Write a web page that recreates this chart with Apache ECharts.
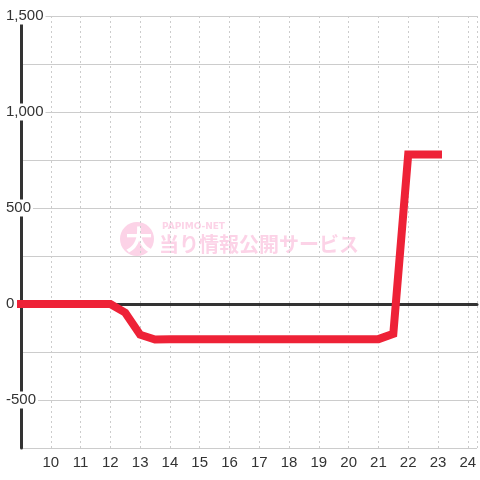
<!DOCTYPE html>
<html>
<head>
<meta charset="utf-8">
<script src="https://cdn.jsdelivr.net/npm/echarts@6/dist/echarts.min.js"></script>
<style>
  html, body { margin: 0; padding: 0; background: #fff; }
  #chart { width: 480px; height: 480px; }
</style>
</head>
<body>
<div id="chart"></div>
<script>
// hours of the day (x) and running balance (y)
const hours = [9, 9.5, 10, 10.5, 11, 11.5, 12, 12.5, 13, 13.5, 14, 14.5, 15, 15.5, 16, 16.5,
  17, 17.5, 18, 18.5, 19, 19.5, 20, 20.5, 21, 21.5, 22, 22.5, 23];
const balance = [0, 0, 0, 0, 0, 0, 0, -45, -160, -185, -183, -183, -183, -183, -183, -183,
  -183, -183, -183, -183, -183, -183, -183, -183, -183, -155, 778, 778, 778];

const xMin = 9;
const xMax = 24.31;
const yMin = -750;
const yMax = 1500;
const yStep = 250;
const yLabelStep = 500;

const pink = '#fcd3e7';

const chart = echarts.init(document.getElementById('chart'));

const option = {
  backgroundColor: '#fff',
  animation: false,
  textStyle: { fontFamily: 'Liberation Sans, Arial, sans-serif' },
  grid: { left: 21, right: 0, top: 16, bottom: 32, containLabel: false },
  graphic: [
    {
      type: 'circle',
      z: -1,
      shape: { cx: 137, cy: 239, r: 17 },
      style: { fill: pink }
    },
    {
      type: 'text',
      z: -1,
      x: 139, y: 240,
      style: {
        text: '大', fill: '#fff', font: 'bold 27px "Noto Sans CJK JP"',
        align: 'center', verticalAlign: 'middle'
      }
    },
    {
      type: 'text',
      z: -1,
      x: 162, y: 222,
      style: { text: 'PAPIMO-NET', fill: pink, font: 'bold 9px "DejaVu Sans"' }
    },
    {
      type: 'text',
      z: -1,
      x: 159, y: 234,
      style: { text: '当り情報公開サービス', fill: pink, font: 'bold 20px "Noto Sans CJK JP"' }
    }
  ],
  xAxis: [
    {
      type: 'value',
      min: xMin,
      max: xMax,
      interval: 1,
      position: 'bottom',
      axisLine: { show: false, onZero: false },
      axisTick: { show: false },
      axisLabel: {
        color: '#333',
        fontSize: 15,
        margin: 7,
        showMinLabel: false,
        formatter: v => (Number.isInteger(v) ? String(v) : '')
      },
      splitLine: { show: true, lineStyle: { color: '#ccc', type: [2, 3], width: 1 } }
    },
    {
      type: 'value',
      min: xMin,
      max: xMax,
      interval: 1,
      position: 'bottom',
      axisLine: { show: true, onZero: true, lineStyle: { color: '#333', width: 3 } },
      axisTick: { show: false },
      axisLabel: { show: false },
      splitLine: { show: false }
    }
  ],
  yAxis: {
    type: 'value',
    min: yMin,
    max: yMax,
    interval: yStep,
    axisLine: { show: true, onZero: false, lineStyle: { color: '#333', width: 3 } },
    axisTick: { show: false },
    axisLabel: {
      color: '#333',
      fontSize: 15,
      align: 'left',
      margin: 15,
      backgroundColor: '#fff',
      padding: [1, 2, 1, 0],
      formatter: v => (v % yLabelStep === 0 && v > yMin ? v.toLocaleString('en-US') : '')
    },
    splitLine: { show: true, lineStyle: { color: '#ccc', width: 1 } }
  },
  series: [
    {
      type: 'line',
      xAxisIndex: 0,
      data: hours.map((h, i) => [h, balance[i]]),
      symbol: 'none',
      z: 10,
      lineStyle: { color: '#ee2237', width: 8, cap: 'square', join: 'miter' }
    }
  ]
};

chart.setOption(option);
</script>
</body>
</html>
